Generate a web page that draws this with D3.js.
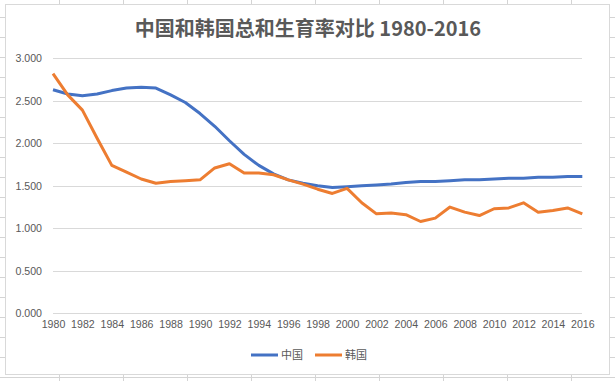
<!DOCTYPE html>
<meta charset="utf-8">
<style>
body {
  margin: 0;
  background: #fff;
}
text {
  font-family: "Liberation Sans", "Noto Sans CJK SC", sans-serif;
  fill: #595959;
}
.grid line {
  stroke: #d9d9d9;
  shape-rendering: crispEdges;
}
.sheet line {
  stroke: #d4d4d4;
  shape-rendering: crispEdges;
}
.axis .domain, .axis .tick line {
  display: none;
}
</style>
<body>
<svg width="615" height="381"></svg>
<script src="https://d3js.org/d3.v7.min.js"></script>
<script>

var years = d3.range(1980, 2017);
var seriesNames = ["中国", "韩国"];
var china = [2.63, 2.58, 2.56, 2.58, 2.62, 2.65, 2.66, 2.65, 2.57, 2.48,
             2.35, 2.20, 2.03, 1.87, 1.74, 1.64, 1.57, 1.53, 1.50, 1.48,
             1.49, 1.50, 1.51, 1.52, 1.54, 1.55, 1.55, 1.56, 1.57, 1.57,
             1.58, 1.59, 1.59, 1.60, 1.60, 1.61, 1.61];
var korea = [2.82, 2.57, 2.39, 2.06, 1.74, 1.66, 1.58, 1.53, 1.55, 1.56,
             1.57, 1.71, 1.76, 1.65, 1.65, 1.63, 1.57, 1.52, 1.46, 1.41,
             1.47, 1.30, 1.17, 1.18, 1.16, 1.08, 1.12, 1.25, 1.19, 1.15,
             1.23, 1.24, 1.30, 1.19, 1.21, 1.24, 1.17];
var yTicks = [0, 0.5, 1, 1.5, 2, 2.5, 3];
var xTicks = d3.range(1980, 2017, 2);
var colors = ["#4472c4", "#ed7d31"];

var svg = d3.select("svg"),
    W = +svg.attr("width"),
    H = +svg.attr("height");

// spreadsheet cells behind the chart
var sheet = svg.append("g").attr("class", "sheet");
sheet.selectAll(".col")
  .data(d3.range(0, 9))
  .enter().append("line")
    .attr("x1", function(k) { return 59.5 + k * 64.05; })
    .attr("x2", function(k) { return 59.5 + k * 64.05; })
    .attr("y1", 0).attr("y2", H);
sheet.selectAll(".row")
  .data(d3.range(0, 19))
  .enter().append("line")
    .attr("x1", 0).attr("x2", W)
    .attr("y1", function(k) { return 17.5 + k * 20; })
    .attr("y2", function(k) { return 17.5 + k * 20; });

// chart box
svg.append("rect")
    .attr("x", 5.5).attr("y", 4.5)
    .attr("width", 604).attr("height", 370)
    .attr("fill", "#fff")
    .attr("stroke", "#d9d9d9");

svg.append("text")
    .attr("x", 308)
    .attr("y", 36)
    .attr("text-anchor", "middle")
    .style("font-family", "'Noto Sans CJK SC', sans-serif")
    .style("font-size", "20px")
    .style("font-weight", "bold")
    .text("中国和韩国总和生育率对比 1980-2016");

var x = d3.scaleLinear().domain([1980, 2016]).range([53, 582.3]),
    y = d3.scaleLinear().domain([0, 3]).range([313.3, 58.3]);

svg.append("g")
    .attr("class", "grid")
  .selectAll("line")
  .data(yTicks)
  .enter().append("line")
    .attr("x1", x.range()[0])
    .attr("x2", x.range()[1])
    .attr("y1", function(d) { return Math.round(y(d)) + 0.5; })
    .attr("y2", function(d) { return Math.round(y(d)) + 0.5; });

svg.append("g")
    .attr("class", "axis")
    .attr("transform", "translate(" + (x.range()[0] - 11) + ",0)")
    .call(d3.axisLeft(y).tickValues(yTicks).tickFormat(d3.format(".3f")).tickSize(0).tickPadding(0))
    .selectAll("text")
    .style("font-size", "10.6px");

svg.append("g")
    .attr("class", "axis")
    .attr("transform", "translate(0," + (y(0) + 7) + ")")
    .call(d3.axisBottom(x).tickValues(xTicks).tickFormat(d3.format("d")).tickSize(0).tickPadding(0))
    .selectAll("text")
    .style("font-size", "10.6px")
    .attr("dy", "0.75em");

var line = d3.line()
    .x(function(d, i) { return x(years[i]); })
    .y(function(d) { return y(d); });

svg.selectAll(".series")
  .data([china, korea])
  .enter().append("path")
    .attr("class", "series")
    .attr("d", line)
    .attr("fill", "none")
    .attr("stroke", function(d, i) { return colors[i]; })
    .attr("stroke-width", 3)
    .attr("stroke-linejoin", "round");

var legend = svg.append("g")
  .selectAll("g")
  .data(seriesNames)
  .enter().append("g")
    .attr("transform", function(d, i) { return "translate(" + (251 + i * 64) + ",355)"; });

legend.append("line")
    .attr("x1", 0).attr("x2", 27)
    .attr("stroke", function(d, i) { return colors[i]; })
    .attr("stroke-width", 3);

legend.append("text")
    .attr("x", 30)
    .attr("dy", "0.36em")
    .style("font-family", "'Noto Sans CJK SC', sans-serif")
    .style("font-size", "11px")
    .text(function(d) { return d; });

</script>
</body>
